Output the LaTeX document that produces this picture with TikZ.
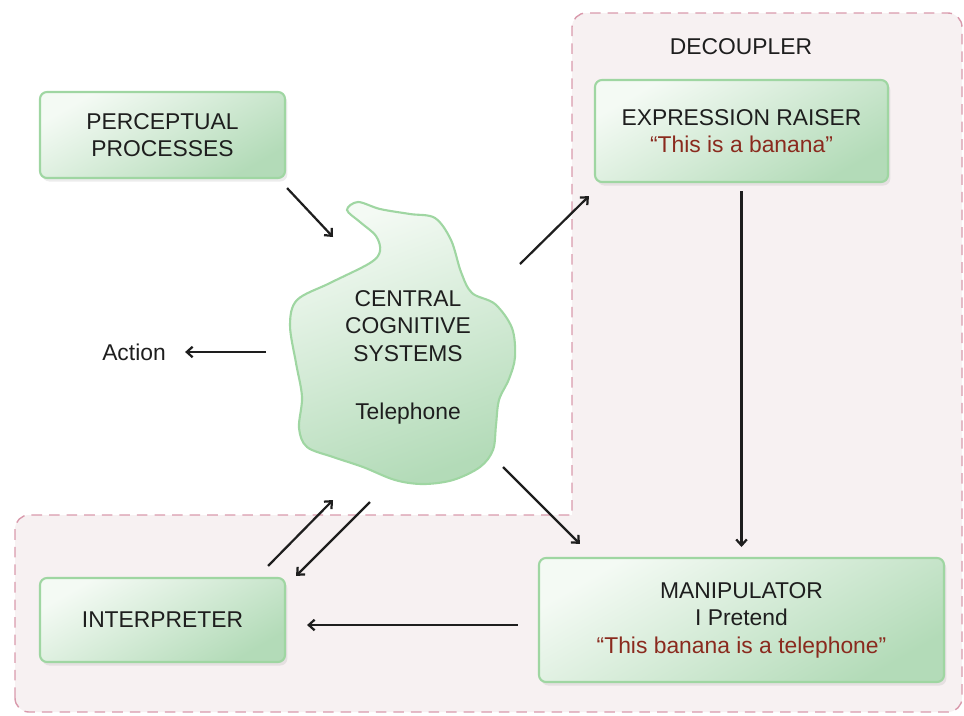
\documentclass[tikz,border=0pt]{standalone}
\usepackage{fontspec}
\setmainfont{Liberation Sans}
\usetikzlibrary{arrows.meta,shadows}
\definecolor{boxlight}{HTML}{F4FAF4}
\definecolor{boxdark}{HTML}{B3DBB8}
\definecolor{boxline}{HTML}{9FD6A2}
\definecolor{zonefill}{HTML}{F7F1F2}
\definecolor{zoneline}{HTML}{D99AAC}
\definecolor{quote}{HTML}{8A2A1E}
\definecolor{ink}{HTML}{1E1E1E}

\begin{document}
\begin{tikzpicture}[x=0.03cm, y=-0.03cm,
	font=\fontsize{19.5}{23.5}\selectfont,
	box/.style={draw=boxline, line width=1.8pt, rounded corners=6pt,
		top color=boxlight, bottom color=boxdark, shading angle=30,
		drop shadow={opacity=0.15, shadow xshift=2pt, shadow yshift=-3pt},
		align=center, text=ink, inner sep=0pt},
	arr/.style={-{Straight Barb[length=5pt,width=9pt]}, line width=1.9pt, ink}]
	\useasboundingbox (0,0) rectangle (964,715);
	
	%decoupler zone
	\draw[fill=zonefill, draw=zoneline, line width=1.2pt, dash pattern=on 9pt off 6pt,
		rounded corners=12pt] (15,712) -- (15,515) [sharp corners] -- (572,515)
		[rounded corners=12pt] -- (572,13) -- (962,13) -- (962,712) -- cycle;
	\node[text=ink] (decoupler) at (741,47) {DECOUPLER};
	
	%boxes
	\node[box, minimum width=7.35cm, minimum height=2.58cm] (perc) at (162.5,135)
		{PERCEPTUAL\\PROCESSES};
	\node[box, minimum width=8.79cm, minimum height=3.06cm] (expr) at (741.5,131)
		{EXPRESSION RAISER\\\textcolor{quote}{“This is a banana”}};
	\node[box, minimum width=7.35cm, minimum height=2.52cm] (interp) at (162.5,620)
		{INTERPRETER};
	\node[box, minimum width=12.15cm, minimum height=3.72cm] (manip) at (741.5,620)
		{MANIPULATOR\\I Pretend\\\textcolor{quote}{“This banana is a telephone”}};
	
	%central cognitive systems
	\draw[draw=boxline, line width=1.8pt, top color=boxlight, bottom color=boxdark, shading angle=20]
		plot[smooth cycle, tension=0.55] coordinates {(358,202) (380,209) (410,214) (435,218)
		(451,240) (461,272) (472,293) (495,304) (512,328) (515,357) (509,379) (499,400)
		(496,425) (493,450) (480,467) (453,480) (423,484) (395,480) (363,467) (333,457)
		(307,447) (299,428) (302,397) (296,363) (290,325) (297,300) (330,283) (370,263)
		(380,251) (376,236) (360,222) (347,210)};
	\node[text=ink, align=center] (ccs) at (408,357)
		{CENTRAL\\COGNITIVE\\SYSTEMS\\[26pt]Telephone};
	
	\node[text=ink] (action) at (134,352) {Action};
	
	\coordinate (ccsW) at (266,352);
	\coordinate (ccsNW) at (333,237);
	\coordinate (ccsNE) at (520,264);
	\coordinate (ccsSE) at (503,467);
	\coordinate (ccsSWin) at (333,500);
	\coordinate (ccsSWout) at (370,502);
	
	%arrows
	\draw[arr] ([shift={(1,9)}]perc.south east) -- (ccsNW);
	\draw[arr] (ccsW) -- ([xshift=13pt]action.east);
	\draw[arr] (ccsNE) -- ([shift={(-5,13)}]expr.south west);
	\draw[arr, shorten <=7pt, shorten >=8.5pt] (expr.south) -- (manip.north);
	\draw[arr] (ccsSE) -- ([shift={(42,-13)}]manip.north west);
	\draw[arr] ([shift={(-18,-11)}]interp.north east) -- (ccsSWin);
	\draw[arr] (ccsSWout) -- ([shift={(10,-1)}]interp.north east);
	\draw[arr] ([shift={(-20,5)}]manip.west) -- ([shift={(21,5)}]interp.east);
	
\end{tikzpicture}
\end{document}
